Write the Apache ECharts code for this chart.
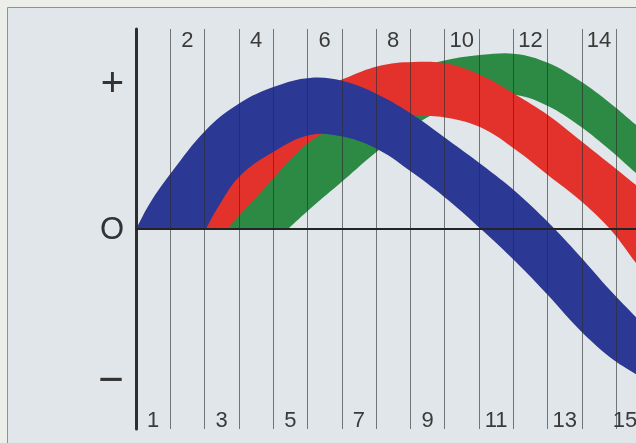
<!DOCTYPE html>
<html>
<head>
<meta charset="utf-8">
<script src="https://cdn.jsdelivr.net/npm/echarts@6/dist/echarts.min.js"></script>
<style>
html,body{margin:0;padding:0;background:#eceeea;}
#chart{width:636px;height:443px;}
</style>
</head>
<body>
<div id="chart"></div>
<script>
// ---- tick labels ----
const lineNumbers = [1,2,3,4,5,6,7,8,9,10,11,12,13,14,15];
const topLabels = [2,4,6,8,10,12,14];
const bottomLabels = [1,3,5,7,9,11,13,15];
const levelValues = [1, 0, -1];
const levelLabels = ['+', 'O', '\u2212'];
const xMin = 1, xMax = 15.58;

// ---- bands: upper edge and lower edge, [x, value] ----
const blueUpper = [[1.00,0],[1.41,0.176],[2.02,0.378],[3.04,0.669],[4.03,0.851],[5.05,0.962],[6.07,1.020],[7.06,0.997],[8.08,0.905],[9.08,0.770],[10.10,0.601],[11.09,0.432],[12.08,0.250],[13.01,0.047],[13.94,-0.182],[14.82,-0.412],[15.58,-0.595]];
const blueLower = [[3.04,0],[3.36,0.135],[4.03,0.358],[5.05,0.527],[6.07,0.635],[7.06,0.622],[8.08,0.534],[9.08,0.378],[10.10,0.196],[11.09,-0.007],[12.08,-0.223],[13.01,-0.446],[13.94,-0.682],[14.82,-0.865],[15.58,-0.980]];

const redUpper = [[2.72,0],[4.03,0.466],[5.05,0.736],[6.07,0.905],[7.06,1.014],[8.08,1.101],[9.08,1.128],[10.10,1.115],[11.09,1.034],[12.08,0.905],[13.01,0.770],[13.94,0.601],[14.82,0.439],[15.58,0.297]];
const redLower = [[3.65,0],[4.62,0.243],[5.78,0.534],[6.42,0.642],[7.06,0.703],[8.08,0.743],[9.08,0.764],[10.10,0.750],[11.09,0.682],[12.08,0.534],[13.01,0.365],[13.94,0.196],[14.82,0.000],[15.58,-0.230]];

const greenUpper = [[3.45,0],[4.03,0.230],[5.05,0.534],[6.07,0.750],[7.06,0.885],[8.08,0.993],[9.08,1.081],[10.10,1.142],[11.09,1.176],[12.08,1.182],[13.01,1.122],[13.94,1.000],[14.82,0.851],[15.58,0.703]];
const greenLower = [[5.43,0],[6.07,0.135],[7.06,0.331],[8.08,0.534],[9.08,0.696],[10.10,0.824],[11.09,0.892],[12.08,0.905],[13.01,0.831],[13.94,0.696],[14.82,0.534],[15.58,0.378]];

const colors = { blue: '#2b3894', red: '#e3322c', green: '#2c8a45' };

function bandPoints(api, upper, lower) {
  const pts = [];
  const push = (p, corner) => {
    const c = api.coord(p);
    pts.push(c);
    if (corner) pts.push([c[0], c[1]]);
  };
  upper.forEach((p, i) => push(p, i === 0 || i === upper.length - 1));
  for (let i = lower.length - 1; i >= 0; i--) push(lower[i], i === 0 || i === lower.length - 1);
  return pts;
}

function bandSeries(name, upper, lower, color) {
  return {
    type: 'custom',
    name: name,
    coordinateSystem: 'cartesian2d',
    xAxisIndex: 0, yAxisIndex: 0,
    silent: true,
    animation: false,
    z: 2,
    data: [upper[0]],
    renderItem: function (params, api) {
      return {
        type: 'polygon',
        shape: { points: bandPoints(api, upper, lower), smooth: 0.38 },
        style: { fill: color }
      };
    }
  };
}

const labelFont = { fontFamily: 'Liberation Sans', fontSize: 22, color: '#3a3a3a' };
const labelPos = k => Math.min(k + 0.5, xMax - 0.32);

const chart = echarts.init(document.getElementById('chart'), null, { renderer: 'canvas' });
chart.setOption({
  animation: false,
  backgroundColor: '#eceeea',
  textStyle: { fontFamily: 'Liberation Sans' },
  graphic: { elements: [{
    type: 'rect', z: -100, silent: true,
    shape: { x: 7.5, y: 7.5, width: 700, height: 500 },
    style: { fill: '#e0e6e9', stroke: '#8e9193', lineWidth: 1 }
  }]},
  grid: { left: 136, right: 0, top: 29, bottom: 14, containLabel: false, outerBoundsMode: 'none' },
  xAxis: [
    { // zero line + vertical lines
      type: 'value', position: 'bottom', min: xMin, max: xMax, interval: 1, z: 5,
      axisLine: { show: true, onZero: true, lineStyle: { color: '#242424', width: 2 } },
      axisTick: { show: false },
      axisLabel: { show: false },
      splitLine: { show: true, showMinLine: false, showMaxLine: false,
        lineStyle: { color: 'rgba(45,45,45,0.62)', width: 1 } }
    },
    { // odd numbers, bottom
      type: 'value', position: 'bottom', min: xMin, max: xMax, z: 5,
      axisLine: { show: false, onZero: false }, axisTick: { show: false }, splitLine: { show: false },
      axisLabel: Object.assign({
        show: true, inside: true, margin: 8, verticalAlign: 'middle', align: 'center',
        customValues: bottomLabels.map(labelPos),
        formatter: v => String(Math.floor(v + 1e-6))
      }, labelFont)
    },
    { // even numbers, top
      type: 'value', position: 'top', min: xMin, max: xMax, z: 5,
      axisLine: { show: false, onZero: false }, axisTick: { show: false }, splitLine: { show: false },
      axisLabel: Object.assign({
        show: true, inside: true, margin: 12, verticalAlign: 'middle', align: 'center',
        customValues: topLabels.map(labelPos),
        formatter: v => String(Math.floor(v + 1e-6))
      }, labelFont)
    }
  ],
  yAxis: {
    type: 'value', min: -1.35, max: 1.35, z: 5,
    axisLine: { show: true, onZero: false, lineStyle: { color: '#2e2e2e', width: 3 } },
    axisTick: { show: false },
    splitLine: { show: false },
    axisLabel: {
      show: true, margin: 12, customValues: levelValues,
      formatter: v => {
        const i = levelValues.indexOf(v);
        const key = ['p', 'o', 'm'][i];
        return '{' + key + '|' + levelLabels[i] + '}';
      },
      rich: {
        p: { fontFamily: 'Liberation Sans', fontSize: 40, color: '#333', padding: [8, 0, 0, 0] },
        o: { fontFamily: 'Liberation Sans', fontSize: 31, color: '#333', padding: [2, 0, 0, 0] },
        m: { fontFamily: 'Liberation Sans', fontSize: 44, color: '#333', padding: [10, 0, 0, 0] }
      }
    }
  },
  series: [
    bandSeries('green', greenUpper, greenLower, colors.green),
    bandSeries('red', redUpper, redLower, colors.red),
    bandSeries('blue', blueUpper, blueLower, colors.blue)
  ]
});
</script>
</body>
</html>
